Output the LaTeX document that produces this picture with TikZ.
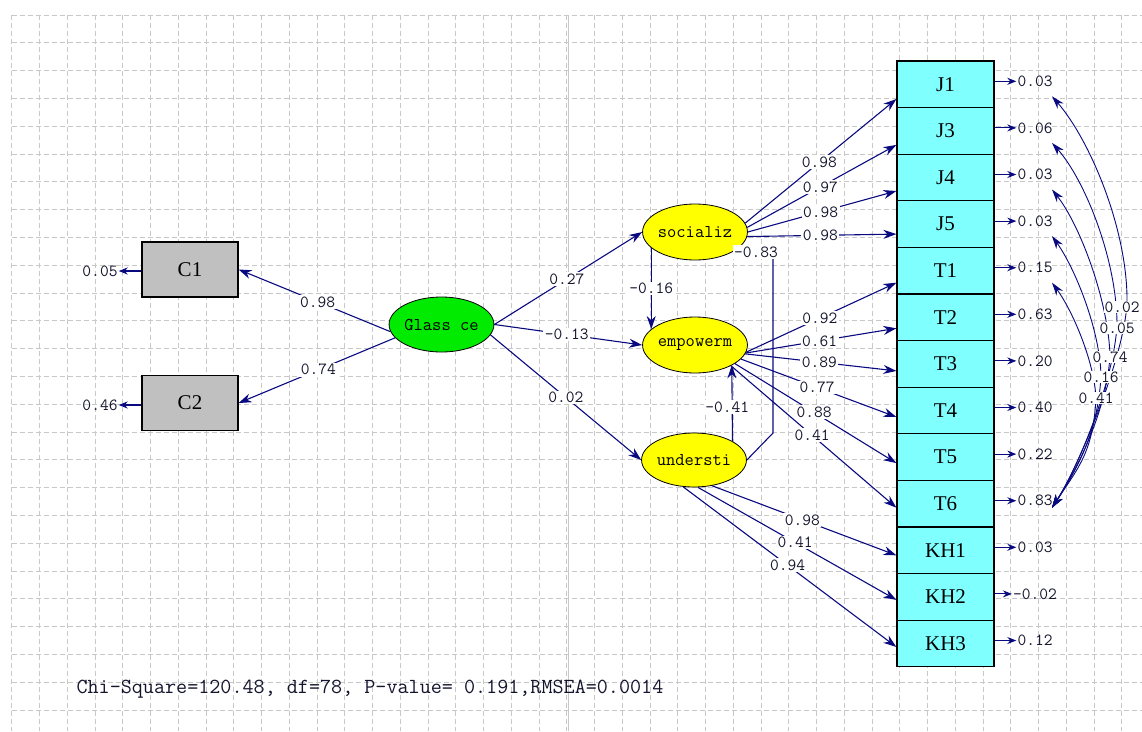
\documentclass[tikz,border=0pt]{standalone}
\usepackage{fontspec}
\setmainfont{Liberation Serif}
\usepackage{tikz}
\usetikzlibrary{positioning}
\usetikzlibrary{shapes.geometric,arrows.meta}
\definecolor{lisnavy}{RGB}{10,10,128}
\definecolor{obscyan}{RGB}{128,255,255}
\definecolor{obsgray}{RGB}{192,192,192}
\definecolor{latyellow}{RGB}{255,255,0}
\definecolor{latgreen}{RGB}{0,235,0}
\definecolor{gridgray}{RGB}{200,200,200}
\definecolor{numtext}{RGB}{20,20,45}
\newcommand{\numfont}{\fontsize{17}{17}\selectfont\ttfamily}
\newcommand{\latfont}{\fontsize{18}{18}\selectfont\ttfamily}
\newcommand{\obsfont}{\fontsize{21}{21}\selectfont\rmfamily}

\begin{document}
\begin{tikzpicture}[x=1pt,y=-1pt,
  lat/.style={ellipse,draw=black,line width=0.8pt,minimum width=96pt,minimum height=56pt,inner sep=0pt,font=\latfont},
  obs/.style={rectangle,draw=black,line width=1.2pt,minimum width=97pt,minimum height=46.6pt,inner sep=0pt,font=\obsfont},
  ld/.style={draw=lisnavy,line width=1.1pt,-{Stealth[length=13pt,width=9pt]}},
  errarrow/.style={draw=lisnavy,line width=1.1pt,-{Stealth[length=9pt,width=7pt]}},
  lbl/.style={fill=white,inner sep=1.5pt,text=numtext,font=\numfont},
  err/.style={inner sep=1pt,text=numtext,font=\numfont},
  cov/.style={draw=lisnavy,line width=0.9pt,{Stealth[length=13pt,width=8pt]}-{Stealth[length=13pt,width=8pt]}},
  grid line/.style={draw=gridgray,line width=0.8pt,dash pattern=on 5pt off 3pt}]
\useasboundingbox (0,0) rectangle (1142,731);
% background grid
\foreach \k in {0,...,40}
  \draw[grid line] ({11.7+27.75*\k},15) -- ({11.7+27.75*\k},731);
\foreach \k in {0,...,25}
  \draw[grid line] (11.7,{15+27.8*\k}) -- (1142,{15+27.8*\k});
\draw[gridgray,line width=1pt] (568,15) -- (568,731);

% latent and observed variables
\node[obs,fill=obsgray,minimum width=96pt,minimum height=55pt] (C1) at (190,269.5) {C1};
\node[obs,fill=obsgray,minimum width=96pt,minimum height=55pt] (C2) at (190,403) {C2};
\node[lat,fill=latgreen,minimum width=97pt,minimum height=55pt] (glass) at (441.5,324.5) {Glass ce};
\node[lat,fill=latyellow] (soc) at (695,232) {socializ};
\node[lat,fill=latyellow] (emp) at (695,345) {empowerm};
\node[lat,fill=latyellow,minimum height=54pt] (und) at (694,460) {understi};

\foreach \n/\e [count=\i from 0] in {J1/0.03,J3/0.06,J4/0.03,J5/0.03,T1/0.15,T2/0.63,T3/0.20,T4/0.40,T5/0.22,T6/0.83,KH1/0.03,KH2/-0.02,KH3/0.12}{
  \node[obs,fill=obscyan] (\n) at (945.5,{84.3+46.6*\i}) {\n};
  \node[err] (e\n) at (1035,{81.3+46.6*\i}) {\e};
  \draw[errarrow] (\n.east |- e\n) -- (e\n.west);
}
\node[err] (eC1) at (100,271) {0.05};
\node[err] (eC2) at (100,405) {0.46};
\draw[errarrow] (C1.west |- eC1) -- (eC1.east);
\draw[errarrow] (C2.west |- eC2) -- (eC2.east);

% structural paths
\draw[ld] (glass.188) -- node[lbl,pos=0.48] {0.98} (C1.east);
\draw[ld] (glass.196) -- node[lbl,pos=0.49] {0.74} (C2.east);
\draw[ld] (glass.east) -- node[lbl,pos=0.49] {0.27} (soc.west);
\draw[ld] (glass.east) -- node[lbl,pos=0.49] {-0.13} (emp.west);
\draw[ld] (glass.-12) -- node[lbl,pos=0.5] {0.02} (und.west);
\draw[ld] (soc.-160) -- node[lbl,pos=0.5] {-0.16} (emp.160);
\draw[ld] (und.26) -- node[lbl,pos=0.45,xshift=-5pt] {-0.41} (emp.-29);

% correlation socializ - understi
\coordinate (k1) at (773,252);
\coordinate (k2) at (773,433);
\draw[lisnavy,line width=1.1pt] (soc.-20) -- (k1) -- (k2) -- (und.east);
\node[lbl] (r83) at (756,252) {-0.83};

% loadings
\foreach \a/\n/\dy/\v in {10/J1/14.7/0.98,5/J3/14/0.97,0/J4/13.5/0.98,-5/J5/10/0.98}
  \draw[ld] (soc.\a) -- node[lbl,pos=0.49] {\v} ([yshift=-\dy pt]\n.west);
\foreach \a/\n/\dy/\v in {-8/T1/12/0.92,-9/T2/11/0.61,-10/T3/7/0.89,-17/T4/6.5/0.77,-25/T5/6/0.88,-30/T6/4/0.41}
  \draw[ld] (emp.\a) -- node[lbl,pos=0.49] {\v} ([yshift=-\dy pt]\n.west);
\foreach \a/\n/\dy/\v in {-55/KH1/5/0.98,-82/KH2/3/0.41,-112/KH3/3.5/0.94}
  \draw[ld] (und.\a) -- node[lbl,pos=0.49] {\v} ([yshift=-\dy pt]\n.west);

% error covariances
\coordinate (tT6) at ([shift={(17,7)}]eT6.center);
\foreach \n/\mx/\my/\ax/\ay/\bx/\by in {J1/1127/303/1090/140/1128/230,J3/1117/325/1085/180/1117/260,J4/1110/355/1080/225/1108/300,J5/1101/376/1075/268/1100/330,T1/1096/398/1072/310/1094/360}
  \draw[cov] ([shift={(17,15)}]e\n.center) .. controls (\ax,\ay) and (\bx,\by) .. (\mx,\my)
    .. controls ({\mx-3},{\my+55}) and (1078,468) .. (tT6);
\foreach \n/\lx/\ly/\v in {J1/1122/307/0.02,J3/1117/328/0.05,J4/1110/357/0.74,J5/1101/377/0.16,T1/1096/398/0.41}
  \node[lbl,inner sep=0.5pt] (c\n) at (\lx,\ly) {\v};

\node[anchor=west,font=\fontsize{21.5}{21}\selectfont\ttfamily,text=numtext] (fit) at (73,689) {Chi-Square=120.48, df=78, P-value= 0.191,RMSEA=0.0014};
\end{tikzpicture}
\end{document}
